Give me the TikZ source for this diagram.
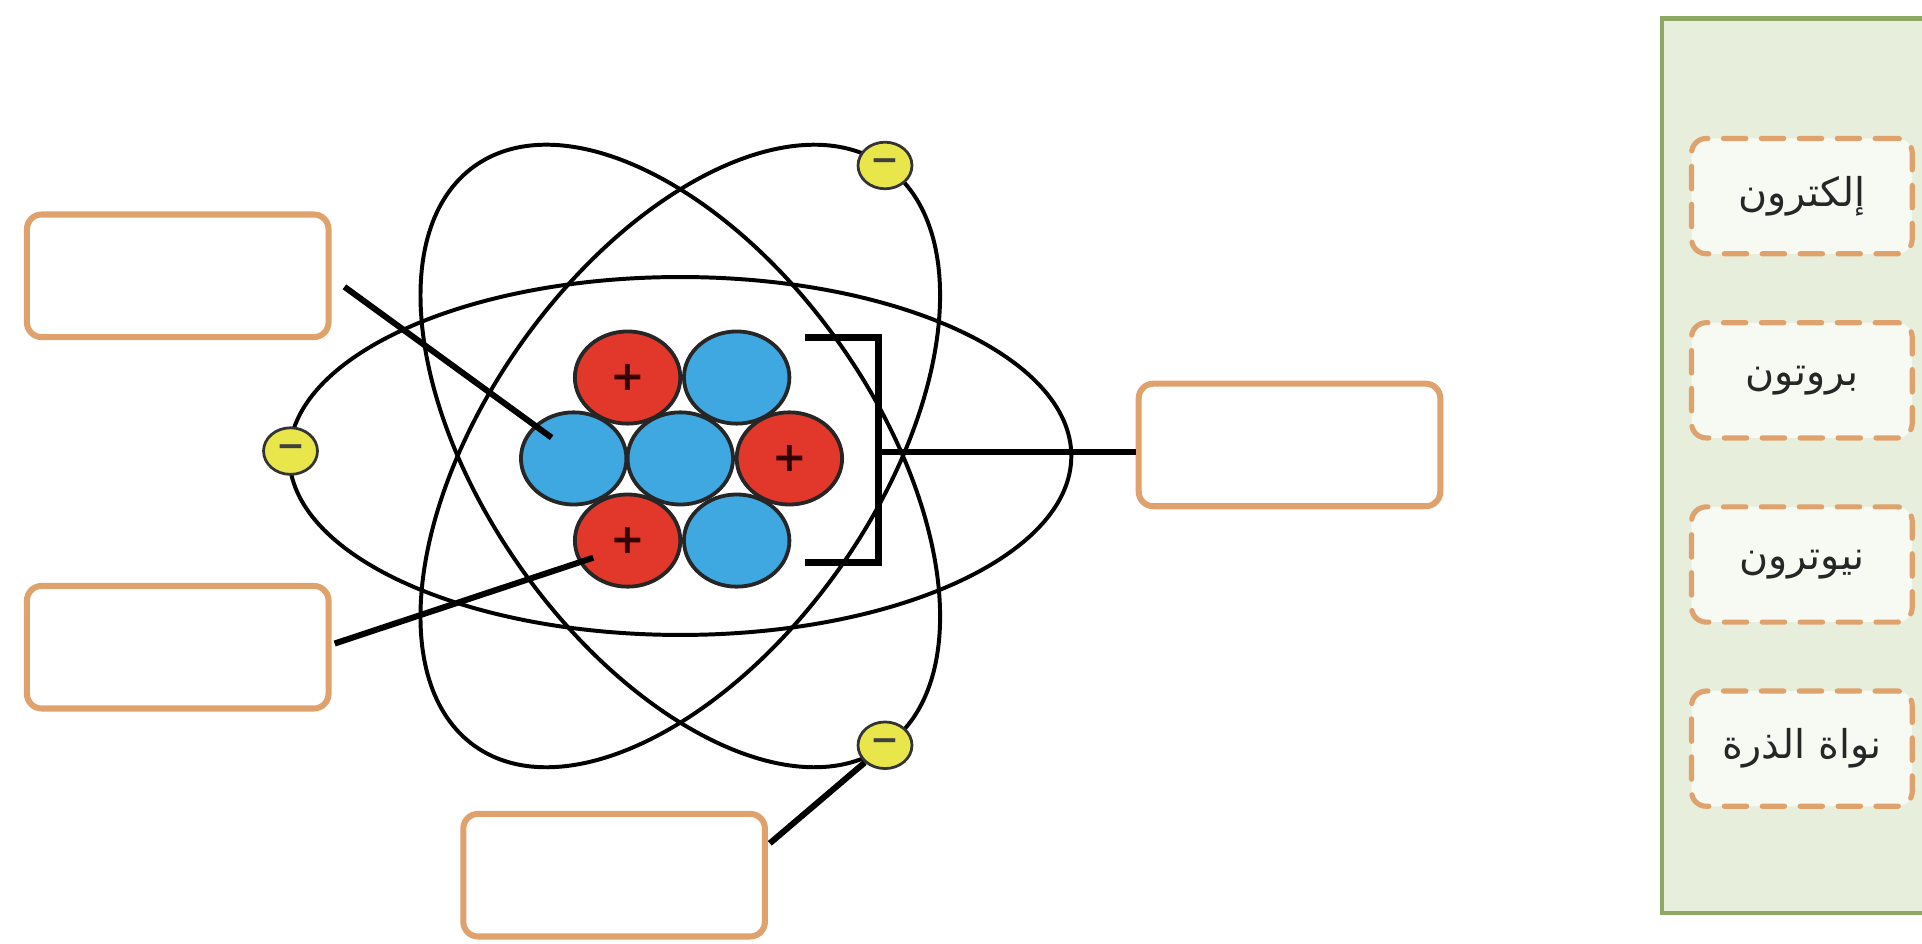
\documentclass[tikz,border=0pt]{standalone}
\usepackage{fontspec}
\usetikzlibrary{positioning,shapes.geometric}
\TeXXeTstate=1
\newfontfamily\arabicfont[Script=Arabic]{DejaVu Sans}
\newfontfamily\signfont{DejaVu Sans}
\definecolor{boxorange}{HTML}{DFA26C}
\definecolor{protonred}{HTML}{E2382C}
\definecolor{neutronblue}{HTML}{40A8E0}
\definecolor{electronyellow}{HTML}{E9E64C}
\definecolor{panelgreen}{HTML}{E7EEDC}
\definecolor{panelborder}{HTML}{8DA862}

\begin{document}
\begin{tikzpicture}[x=0.025cm,y=-0.025cm,
    orbit/.style={line width=2.3pt},
    link/.style={line width=3.5pt},
    answer/.style={draw=boxorange,line width=3.5pt,rounded corners=0.3cm,fill=white,
      minimum width=6.15cm,minimum height=2.5cm},
    choice/.style={draw=boxorange,line width=3pt,dash pattern=on 13pt off 9pt,line cap=round,
      rounded corners=0.3cm,fill=white!65!panelgreen,minimum width=4.5cm,minimum height=2.35cm,
      font=\fontsize{23}{27}\selectfont\arabicfont,text=black!85},
    nucleon/.style={ellipse,draw=black!85,line width=2.2pt,inner sep=0pt,
      minimum width=2.15cm,minimum height=1.88cm},
    proton/.style={nucleon,fill=protonred,font=\fontsize{24}{24}\selectfont\signfont\bfseries,
      text=black!80!red},
    neutron/.style={nucleon,fill=neutronblue},
    electron/.style={ellipse,draw=black!80,fill=electronyellow,line width=1.6pt,inner sep=0pt,
      minimum width=1.1cm,minimum height=0.95cm,font=\fontsize{20}{20}\selectfont\signfont\bfseries,
      text=black!75}]
  \useasboundingbox (0,0) rectangle (1568,770);

  % 选项框
  \draw[panelborder,fill=panelgreen,line width=2.5pt] (1356,15) rectangle (1600,745);

  % 轨道
  \coordinate (c) at (555,372);
  \draw[orbit] (c) ellipse [x radius=319,y radius=146];
  \draw[orbit,rotate around={-54.7:(c)}] (c) ellipse [x radius=290,y radius=159];
  \draw[orbit,rotate around={54.7:(c)}] (c) ellipse [x radius=290,y radius=159];

  % 原子核
  \node[proton] (p1) at (512,308) {+};
  \node[neutron] (n1) at (601,308) {};
  \node[neutron] (n2) at (468,374) {};
  \node[neutron] (n3) at (555,374) {};
  \node[proton] (p2) at (644,374) {+};
  \node[proton] (p3) at (512,441) {+};
  \node[neutron] (n4) at (601,441) {};

  % 电子
  \node[electron] (e1) at (722,135) {−};
  \node[electron] (e2) at (237,368) {−};
  \node[electron] (e3) at (722,608) {−};

  % 括号
  \draw[line width=4pt] (657,275) -- (717,275) -- (717,459) -- (657,459);
  \coordinate (brk) at (717,369);

  % 空白框
  \node[answer] (boxTL) at (145,225) {};
  \node[answer,below=4.95cm of boxTL] (boxBL) {};
  \node[answer] (boxB) at (501,714) {};
  \node[answer] (boxR) at (1052,363) {};

  % 连线
  \coordinate (aTL) at (281,234);
  \coordinate (aN) at (450,357);
  \draw[link] (aTL) -- (aN);
  \coordinate (aBL) at (273,525);
  \coordinate (aP) at (484,455);
  \draw[link] (aBL) -- (aP);
  \draw[link] (brk) -- (brk -| boxR.west);
  \coordinate (aB) at (628,688);
  \draw[link] (aB) -- (e3);

  % 词语
  \node[choice] (l1) at (1470,160) {\beginR إلكترون\endR};
  \node[choice,below=1.3cm of l1] (l2) {\beginR بروتون\endR};
  \node[choice,below=1.3cm of l2] (l3) {\beginR نيوترون\endR};
  \node[choice,below=1.3cm of l3] (l4) {\beginR نواة الذرة\endR};
\end{tikzpicture}
\end{document}
